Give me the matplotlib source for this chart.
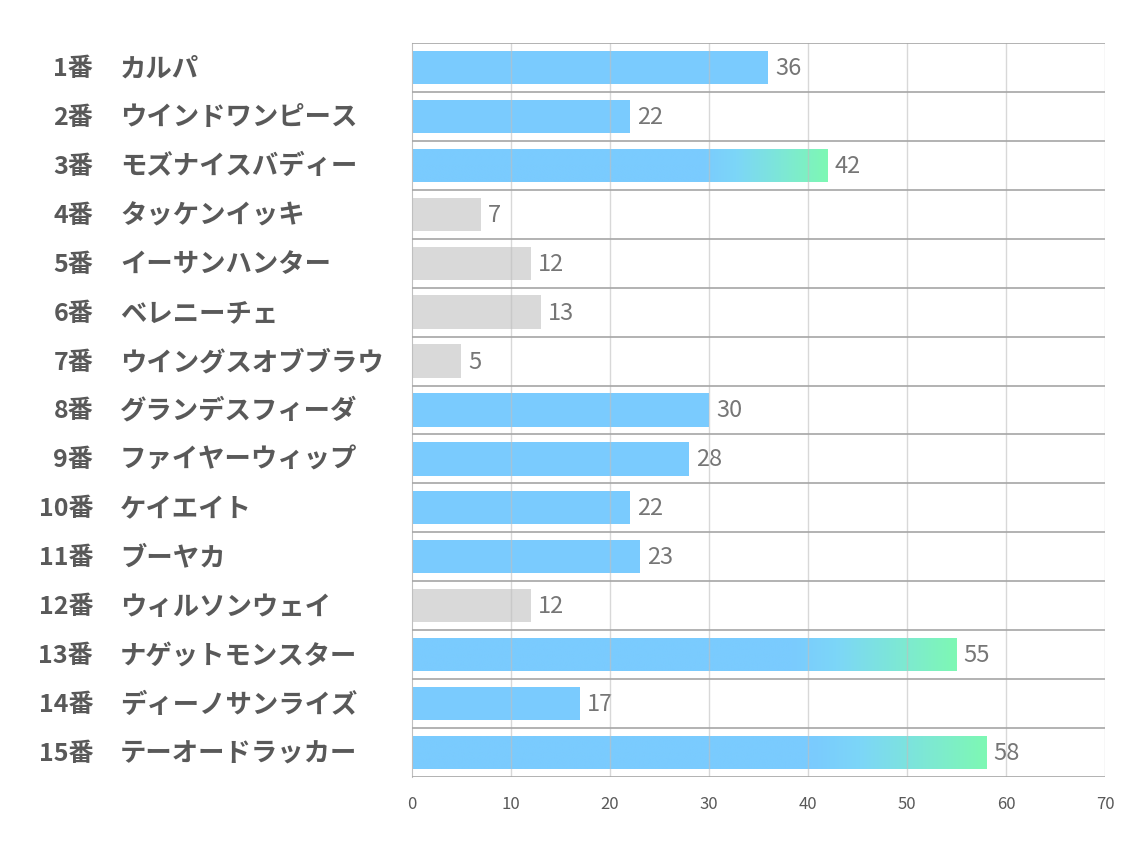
import numpy as np
import matplotlib.pyplot as plt
from matplotlib import transforms
from matplotlib.colors import LinearSegmentedColormap

plt.rcParams['font.family'] = ['Noto Sans CJK JP', 'DejaVu Sans']

umaban = ["1番", "2番", "3番", "4番", "5番", "6番", "7番", "8番", "9番", "10番",
          "11番", "12番", "13番", "14番", "15番"]
names = ["カルパ", "ウインドワンピース", "モズナイスバディー", "タッケンイッキ", "イーサンハンター",
         "ベレニーチェ", "ウイングスオブブラウ", "グランデスフィーダ", "ファイヤーウィップ", "ケイエイト",
         "ブーヤカ", "ウィルソンウェイ", "ナゲットモンスター", "ディーノサンライズ", "テーオードラッカー"]
scores = [36, 22, 42, 7, 12, 13, 5, 30, 28, 22, 23, 12, 55, 17, 58]
highlight = [1, 1, 1, 0, 0, 0, 0, 1, 1, 1, 1, 0, 1, 1, 1]

blue = "#7acbfe"
grey = "#d9d9d9"
green = "#7ef8b4"
cmap = LinearSegmentedColormap.from_list("bg", [(0, blue), (0.70, blue), (0.78, "#7cd6f8"), (1, green)])

fig = plt.figure(figsize=(11.34, 8.5), dpi=100)
ax = fig.add_axes([0.3633, 0.0859, 0.6111, 0.8635])

n = len(scores)
y = np.arange(n)
bar_h = 0.68
grad = np.linspace(0, 1, 256).reshape(1, -1)

for i in range(n):
    v = scores[i]
    col = blue if highlight[i] else grey
    if v > 40:
        b = ax.barh(y[i], v, height=bar_h, color="none", zorder=2)
        im = ax.imshow(grad, cmap=cmap, aspect="auto", zorder=2,
                       extent=[0, v, y[i] + bar_h / 2, y[i] - bar_h / 2])
        im.set_clip_path(b.patches[0])
    else:
        ax.barh(y[i], v, height=bar_h, color=col, zorder=2)
    ax.text(v + 0.7, y[i] + 0.02, str(v), va="center", ha="left", fontsize=17, color="#767676")

ax.set_xlim(0, 70)
ax.set_ylim(n - 0.5, -0.5)
ax.set_xticks(range(0, 71, 10))
ax.set_yticks([])
ax.tick_params(axis="x", length=0, pad=14, labelsize=12, labelcolor="#595959")

for xv in range(10, 71, 10):
    ax.axvline(xv, color="#bfbfbf", alpha=0.6, lw=1, zorder=3)
for yb in np.arange(-0.5, n, 1):
    ax.axhline(yb, color="#a6a6a6", lw=1.2, zorder=3)

for s in ["top", "right", "bottom"]:
    ax.spines[s].set_visible(False)
ax.spines["left"].set_color("#bfbfbf")

trans = transforms.blended_transform_factory(ax.transAxes, ax.transData)
for i in range(n):
    ax.text(-0.4603, y[i] + 0.03, umaban[i], transform=trans, ha="right", va="center",
            fontsize=18, fontweight="bold", color="#595959")
    ax.text(-0.4214, y[i] + 0.03, names[i], transform=trans, ha="left", va="center",
            fontsize=19, fontweight="bold", color="#595959")

fig.savefig("out.png", dpi=100)
